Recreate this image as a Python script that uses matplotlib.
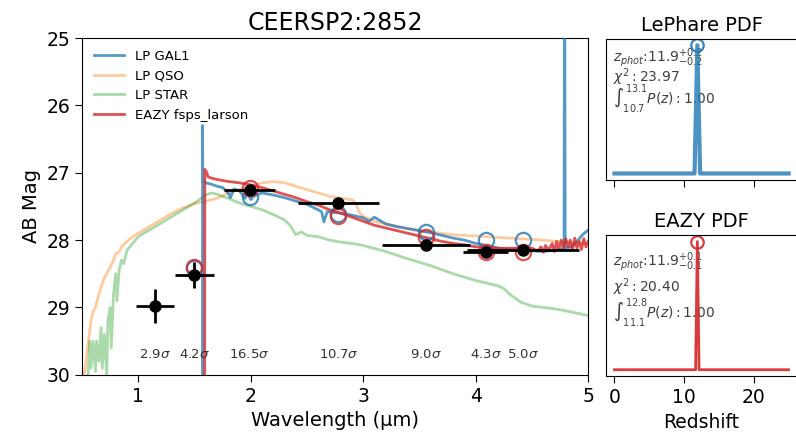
import numpy as np
import matplotlib
matplotlib.use("Agg")
import matplotlib.pyplot as plt

# Observed NIRCam photometry
filt_wl = [1.15, 1.50, 1.99, 2.78, 3.56, 4.09, 4.42]
filt_width = [0.17, 0.17, 0.23, 0.36, 0.39, 0.20, 0.50]
obs_mag = [28.98, 28.52, 27.25, 27.45, 28.07, 28.17, 28.14]
obs_err = [0.25, 0.19, 0.04, 0.04, 0.04, 0.06, 0.05]
snr_labels = ['2.9', '4.2', '16.5', '10.7', '9.0', '4.3', '5.0']

# Synthetic magnitudes of the best-fit templates
model_wl = [1.50, 1.99, 2.78, 3.56, 4.09, 4.42]
lp_model_mag = [28.42, 27.36, 27.62, 27.88, 28.00, 28.00]
ez_model_mag = [28.40, 27.22, 27.64, 27.95, 28.18, 28.18]

# LePhare galaxy template
gal_wl = [1.571, 1.572, 1.574, 1.60, 1.65, 1.70, 1.75, 1.80, 1.82, 1.85, 1.90,
          1.95, 1.97, 2.00, 2.02, 2.05, 2.10, 2.20, 2.30, 2.40, 2.50, 2.60, 2.63,
          2.65, 2.68, 2.80, 2.90, 3.00, 3.05, 3.10, 3.20, 3.30, 3.40, 3.50, 3.60,
          3.70, 3.80, 3.90, 4.00, 4.10, 4.20, 4.30, 4.40, 4.50, 4.60, 4.70, 4.785,
          4.789, 4.791, 4.795, 4.85, 4.90, 4.95, 5.00]
gal_mag = [31.0, 26.3, 27.12, 27.15, 27.17, 27.20, 27.22, 27.30, 27.37, 27.24, 27.27,
           27.38, 27.30, 27.40, 27.36, 27.33, 27.30, 27.33, 27.37, 27.42, 27.47, 27.55, 27.58,
           27.73, 27.58, 27.60, 27.63, 27.67, 27.72, 27.66, 27.76, 27.80, 27.83, 27.86, 27.89,
           27.93, 27.97, 28.00, 28.05, 28.08, 28.12, 28.14, 28.15, 28.16, 28.17, 28.15, 28.13,
           24.0, 24.0, 28.12, 28.10, 28.02, 27.92, 27.85]

# LePhare QSO template
qso_wl = [0.50, 0.52, 0.55, 0.58, 0.60, 0.62, 0.65, 0.68, 0.70, 0.72, 0.75, 0.78,
          0.80, 0.83, 0.85, 0.90, 0.95, 1.00, 1.10, 1.20, 1.30, 1.40, 1.50, 1.60,
          1.70, 1.80, 1.90, 2.00, 2.10, 2.20, 2.30, 2.40, 2.50, 2.60, 2.70, 2.80,
          2.90, 2.93, 2.97, 3.00, 3.10, 3.20, 3.30, 3.40, 3.50, 3.60, 3.80, 4.00,
          4.20, 4.40, 4.60, 4.80, 5.00]
qso_mag = [30.3, 30.0, 29.6, 29.2, 29.05, 29.0, 28.8, 28.65, 28.55, 28.5, 28.4, 28.3,
           28.2, 28.18, 28.1, 28.02, 27.95, 27.9, 27.8, 27.7, 27.6, 27.52, 27.46, 27.42,
           27.38, 27.3, 27.25, 27.2, 27.15, 27.13, 27.15, 27.2, 27.25, 27.3, 27.35, 27.38,
           27.4, 27.45, 27.6, 27.65, 27.72, 27.76, 27.8, 27.83, 27.86, 27.88, 27.92, 27.94,
           27.96, 27.98, 28.0, 28.03, 28.05]

# LePhare stellar template
star_wl = [0.55, 0.57, 0.58, 0.60, 0.62, 0.63, 0.65, 0.67, 0.68, 0.70, 0.72, 0.73,
           0.75, 0.76, 0.78, 0.80, 0.81, 0.83, 0.85, 0.87, 0.90, 0.95, 1.00, 1.10,
           1.20, 1.30, 1.40, 1.50, 1.60, 1.65, 1.70, 1.80, 1.90, 2.00, 2.10, 2.20,
           2.30, 2.35, 2.40, 2.45, 2.50, 2.60, 2.70, 2.80, 2.90, 3.00, 3.20, 3.40,
           3.60, 3.80, 4.00, 4.20, 4.25, 4.30, 4.40, 4.50, 4.60, 4.70, 4.80, 5.00]
star_mag = [30.1, 29.5, 29.9, 29.5, 29.95, 29.5, 29.8, 29.3, 29.9, 29.4, 30.0, 29.2,
            29.0, 29.6, 28.8, 28.5, 28.9, 28.45, 28.3, 28.35, 28.15, 28.05, 27.95, 27.85,
            27.75, 27.65, 27.55, 27.45, 27.33, 27.3, 27.32, 27.38, 27.45, 27.5, 27.55, 27.62,
            27.7, 27.78, 27.92, 27.88, 27.93, 27.95, 28.0, 28.03, 28.05, 28.08, 28.17, 28.28,
            28.38, 28.5, 28.6, 28.68, 28.72, 28.8, 28.92, 28.98, 29.0, 29.02, 29.05, 29.12]

# EAZY fsps_larson template
ez_wl = [1.590, 1.592, 1.61, 1.62, 1.65, 1.70, 1.80, 1.90, 2.00, 2.10, 2.20, 2.30,
         2.40, 2.50, 2.60, 2.70, 2.80, 2.90, 3.00, 3.10, 3.20, 3.30, 3.40, 3.50,
         3.60, 3.70, 3.80, 3.90, 4.00, 4.10, 4.20, 4.30, 4.40, 4.50, 4.55, 4.58,
         4.60, 4.62, 4.65, 4.68, 4.70, 4.72, 4.74, 4.76, 4.78, 4.80, 4.82, 4.84,
         4.86, 4.88, 4.90, 4.92, 4.94, 4.96, 4.98, 5.00]
ez_mag = [31.0, 26.95, 27.0, 27.06, 27.08, 27.1, 27.13, 27.15, 27.18, 27.22, 27.27, 27.32,
          27.37, 27.43, 27.48, 27.55, 27.6, 27.66, 27.72, 27.78, 27.82, 27.86, 27.9, 27.94,
          27.98, 28.02, 28.05, 28.07, 28.1, 28.11, 28.12, 28.12, 28.12, 28.12, 28.16, 28.1,
          28.18, 28.08, 28.15, 28.05, 28.17, 28.02, 28.14, 28.0, 28.12, 27.98, 28.1, 28.0,
          28.15, 27.97, 28.12, 28.02, 28.14, 27.98, 28.1, 28.02]

# Redshift probability distributions
pdf_z = [0.0, 11.5, 11.9, 12.3, 25.0]
lp_pdf = [0.0, 0.0, 1.0, 0.0, 0.0]
ez_pdf_z = [0.0, 11.65, 11.9, 12.15, 25.0]
ez_pdf = [0.0, 0.0, 1.0, 0.0, 0.0]
zphot = 11.9

fig = plt.figure(figsize=(7.96, 4.42), dpi=100)
ax = fig.add_axes([0.103, 0.152, 0.636, 0.762])
ax_lp = fig.add_axes([0.761, 0.593, 0.2406, 0.319])
ax_ez = fig.add_axes([0.761, 0.149, 0.2406, 0.319])

###############################################
#######            SED panel            #######
###############################################
ax.plot(gal_wl, gal_mag, color='C0', alpha=0.75, lw=2, label='LP GAL1', zorder=3)
ax.plot(qso_wl, qso_mag, color='C1', alpha=0.4, lw=2, label='LP QSO', zorder=2)
ax.plot(star_wl, star_mag, color='C2', alpha=0.4, lw=2, label='LP STAR', zorder=2)
ax.plot(ez_wl, ez_mag, color='C3', alpha=0.8, lw=2, label='EAZY fsps_larson', zorder=3)

ax.plot(model_wl, lp_model_mag, 'o', mfc='none', mec='C0', mew=1.6, ms=11, alpha=0.8, zorder=4)
ax.plot(model_wl, ez_model_mag, 'o', mfc='none', mec='C3', mew=1.6, ms=11, alpha=0.8, zorder=4)

ax.errorbar(filt_wl, obs_mag, xerr=filt_width, yerr=obs_err, fmt='o', color='k',
            ms=8, lw=2, capsize=0, zorder=5)

for wl, s in zip(filt_wl, snr_labels):
    ax.text(wl, 29.7, s + r'$\sigma$', ha='center', va='center', fontsize=9.5, color='0.2')

ax.set_xlim(0.5, 5.0)
ax.set_ylim(30, 25)
ax.set_xticks([1, 2, 3, 4, 5])
ax.set_yticks([25, 26, 27, 28, 29, 30])
ax.tick_params(labelsize=13.5, length=5)
ax.set_xlabel('Wavelength (µm)', fontsize=14)
ax.set_ylabel('AB Mag', fontsize=14)
ax.set_title('CEERSP2:2852', fontsize=17)
ax.legend(loc='upper left', frameon=False, fontsize=9.5, handlelength=2.3)

###############################################
#######           PDF panels            #######
###############################################
ax_lp.plot(pdf_z, lp_pdf, color='C0', lw=3, alpha=0.8, zorder=3)
ax_lp.plot([zphot], [1.0], 'o', mfc='none', mec='C0', mew=1.6, ms=9, alpha=0.9)
ax_lp.text(0.04, 0.87, r'$z_{phot}$:11.9$^{+0.2}_{-0.2}$', transform=ax_lp.transAxes,
           fontsize=10, va='center', color='0.25', zorder=1)
ax_lp.text(0.04, 0.73, r'$\chi^2: 23.97$', transform=ax_lp.transAxes,
           fontsize=10, va='center', color='0.25', zorder=1)
ax_lp.text(0.04, 0.58, r'$\int_{10.7}^{13.1}P(z): 1.00$', transform=ax_lp.transAxes,
           fontsize=10, va='center', color='0.25', zorder=1)
ax_lp.set_title('LePhare PDF', fontsize=14)

ax_ez.plot(ez_pdf_z, ez_pdf, color='C3', lw=2, alpha=0.9, zorder=3)
ax_ez.plot([zphot], [1.0], 'o', mfc='none', mec='C3', mew=1.6, ms=9, alpha=0.9)
ax_ez.text(0.04, 0.81, r'$z_{phot}$:11.9$^{+0.1}_{-0.1}$', transform=ax_ez.transAxes,
           fontsize=10, va='center', color='0.25', zorder=1)
ax_ez.text(0.04, 0.63, r'$\chi^2: 20.40$', transform=ax_ez.transAxes,
           fontsize=10, va='center', color='0.25', zorder=1)
ax_ez.text(0.04, 0.45, r'$\int_{11.1}^{12.8}P(z): 1.00$', transform=ax_ez.transAxes,
           fontsize=10, va='center', color='0.25', zorder=1)
ax_ez.set_title('EAZY PDF', fontsize=14)
ax_ez.set_xlabel('Redshift', fontsize=13.5)

for a in [ax_lp, ax_ez]:
    a.set_xlim(-1.25, 26.25)
    a.set_ylim(-0.05, 1.05)
    a.set_xticks([0, 10, 20])
    a.set_yticks([])
    a.tick_params(labelsize=13.5, length=5)
ax_lp.set_xticklabels([])

plt.savefig('out.png', dpi=100)
plt.close()
